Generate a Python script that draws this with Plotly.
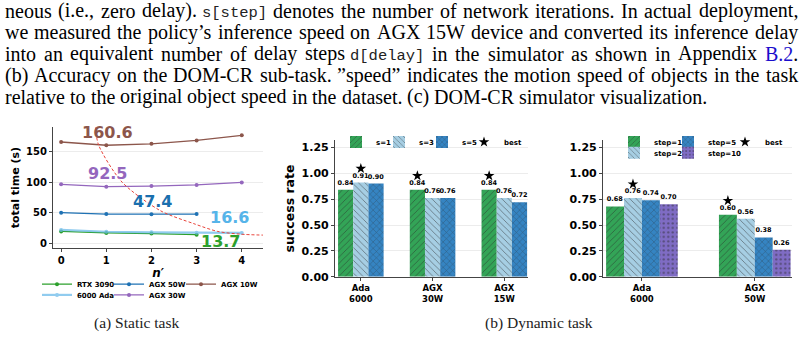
import plotly.graph_objects as go

W, H = 805, 346

# ---------------- data: (a) static task ----------------
n_prime = [0, 1, 2, 3, 4]
rtx3090_time = [19.0, 16.5, 15.5, 13.7]
ada6000_time = [21.5, 18.5, 17.5, 17.0, 16.6]
agx50w_time = [49.8, 47.6, 47.4, 47.5]
agx30w_time = [96.5, 92.5, 93.5, 95.5, 99.5]
agx10w_time = [166.0, 160.6, 163.0, 168.5, 177.0]
trend_n = [0.76, 0.83, 1.35, 2.2, 2.93, 3.47, 3.98, 4.47]
trend_time = [190, 161, 100, 53, 32, 19, 14.5, 13]
min_labels = ["13.7", "16.6", "47.4", "92.5", "160.6"]

# ---------------- data: (b) dynamic task ----------------
devices_s = ["Ada<br>6000", "AGX<br>30W", "AGX<br>15W"]
sr_s1 = [0.84, 0.84, 0.84]
sr_s3 = [0.91, 0.76, 0.76]
sr_s5 = [0.90, 0.76, 0.72]
best_s = [1, 0, 0]

devices_step = ["Ada<br>6000", "AGX<br>50W"]
sr_step1 = [0.68, 0.60]
sr_step2 = [0.76, 0.56]
sr_step5 = [0.74, 0.38]
sr_step10 = [0.70, 0.26]
best_step = [1, 0]

# ---------------- paper text ----------------
paper_lines = [
    "neous (i.e., zero delay). `s[step]` denotes the number of network iterations. In actual deployment,",
    "we measured the policy’s inference speed on AGX 15W device and converted its inference delay",
    "into an equivalent number of delay steps `d[delay]` in the simulator as shown in Appendix {B.2}.",
    "(b) Accuracy on the DOM-CR sub-task. ”speed” indicates the motion speed of objects in the task",
    "relative to the original object speed in the dataset. (c) DOM-CR simulator visualization.",
]
caption_a = "(a) Static task"
caption_b = "(b) Dynamic task"

# ---------------- styling ----------------
FONT = "DejaVu Sans"
SERIF = "Liberation Serif"
MONO = "Liberation Mono"
GREEN, LBLUE, BLUE, PURPLE = "#33a457", "#a6cee3", "#3584c2", "#7f6cc4"
BARGAP = 0.365
LEG_DY = 6
TXT_SIZE = 20
MONO_SIZE = 15.5
LINE_Y = [11, 33, 55, 77, 99]
TXT_LEFT, TXT_RIGHT = 5, 798
STAR_OFFSET = 0.135

# Times / Liberation Serif advance widths (1/1000 em)
_TW = {" ": 250, ".": 250, ",": 250, "(": 333, ")": 333, "-": 333, "’": 333, "”": 444,
       "[": 333, "]": 333, ":": 278}
_TW.update({d: 500 for d in "0123456789"})
_TW.update(dict(zip("abcdefghijklmnopqrstuvwxyz",
                    [444, 500, 444, 500, 444, 333, 500, 500, 278, 278, 500, 278, 778, 500, 500,
                     500, 500, 333, 389, 278, 500, 500, 722, 500, 500, 444])))
_TW.update(dict(zip("ABCDEFGHIJKLMNOPQRSTUVWXYZ",
                    [722, 667, 667, 722, 611, 556, 722, 722, 333, 389, 722, 611, 889, 722, 722,
                     556, 722, 667, 556, 611, 722, 722, 944, 722, 722, 611])))


def word_width(word):
    if word.startswith("`"):
        return 600 * len(word.strip("`")) * MONO_SIZE / 1000
    w = word.replace("{", "").replace("}", "")
    return sum(_TW.get(c, 500) for c in w) * TXT_SIZE / 1000


def word_html(word):
    if word.startswith("`"):
        return (f"<span style='font-family:{MONO};font-size:{MONO_SIZE}px;color:#222'>"
                f"{word.strip('`')}</span>")
    if "{" in word:
        return word.replace("{", "<span style='color:#1a0dcc'>").replace("}", "</span>")
    return word


def tokens_of(line):
    """Words of a line as (html, width); monospace words are glued to the previous word
    so that they share its baseline."""
    toks = []
    for wd in line.split(" "):
        html, wdt = word_html(wd), word_width(wd)
        if wd.startswith("`") and toks:
            ph, pw = toks.pop()
            html = ph + " " + html
            wdt = pw + 250 * TXT_SIZE / 1000 + wdt
        toks.append((html, wdt))
    return toks


def fx(p):
    return p / W


def fy(p):
    return 1 - p / H


fig = go.Figure()
legends = {}
annotations = []


def legend_at(key, text_x, row_y):
    legends[key] = dict(
        x=fx(text_x - 40), y=fy(row_y + LEG_DY), xanchor="left", yanchor="middle",
        bgcolor="rgba(0,0,0,0)", borderwidth=0, orientation="v",
        itemwidth=30, tracegroupgap=0,
        font=dict(family=FONT, size=7, color="black", weight="bold"),
    )


# ---- (a) lines ----
line_specs = [
    ("RTX 3090", rtx3090_time, "#2ca02c", 1.3, 1.0, "legend", 77, 284),
    ("6000 Ada", ada6000_time, "#6dbbea", 2.2, 0.75, "legend2", 77, 295),
    ("AGX 50W", agx50w_time, "#1f72b4", 1.3, 1.0, "legend3", 149, 284),
    ("AGX 30W", agx30w_time, "#9467bd", 1.3, 1.0, "legend4", 149, 295),
    ("AGX 10W", agx10w_time, "#8c564b", 1.3, 1.0, "legend5", 221, 284),
]
for name, ys, col, lw, op, lg, tx, ty in line_specs:
    fig.add_trace(go.Scatter(
        x=n_prime[:len(ys)], y=ys, name=name, mode="lines+markers",
        line=dict(color=col, width=lw), marker=dict(size=4, color=col),
        opacity=op, xaxis="x", yaxis="y", legend=lg,
    ))
    legend_at(lg, tx, ty)

fig.add_trace(go.Scatter(
    x=trend_n, y=trend_time, mode="lines", showlegend=False,
    line=dict(color="#e8433a", width=1, dash="3px,2px", shape="spline", smoothing=0.8),
    xaxis="x", yaxis="y",
))

label_style = [
    (3.53, 3, "#2ca02c"),
    (3.72, 42, "#56b4e9"),
    (2.02, 69, "#1a6fae"),
    (1.02, 115, "#9467bd"),
    (1.02, 182, "#8c564b"),
]
for txt, (lx, ly, col) in zip(min_labels, label_style):
    annotations.append(dict(
        x=lx, y=ly, xref="x", yref="y", text=txt, showarrow=False,
        font=dict(family=FONT, size=16, color=col, weight="bold"),
    ))


# ---- (b) bars ----
def add_bars(cats, series, names, colors, shapes, xa, ya, leg_keys, leg_pos, best, star_leg, star_pos):
    n = len(series)
    xs = list(range(len(cats)))
    for vals, nm, col, shp, lg, (tx, ty) in zip(series, names, colors, shapes, leg_keys, leg_pos):
        fig.add_trace(go.Bar(
            x=xs, y=vals, name=nm, xaxis=xa, yaxis=ya, legend=lg,
            marker=dict(color=col, line=dict(width=0),
                        pattern=dict(shape=shp, fgcolor="#2a2a2a", size=4.5, solidity=0.2)),
            text=[f"{v:.2f}" for v in vals], textposition="outside",
            textangle=0, constraintext="none", cliponaxis=False,
            textfont=dict(family=FONT, size=6.5, color="black", weight="bold"),
        ))
        legend_at(lg, tx, ty)
    w = (1 - BARGAP) / n
    sx = [i + (b - (n - 1) / 2) * w for i, b in enumerate(best)]
    sy = [series[b][i] + STAR_OFFSET for i, b in enumerate(best)]
    fig.add_trace(go.Scatter(
        x=sx, y=sy, mode="markers", name="best", xaxis=xa, yaxis=ya, legend=star_leg,
        marker=dict(symbol="star", size=8, color="black"), cliponaxis=False,
    ))
    legend_at(star_leg, *star_pos)


add_bars(devices_s, [sr_s1, sr_s3, sr_s5], ["s=1", "s=3", "s=5"],
         [GREEN, LBLUE, BLUE], ["/", "\\", "x"], "x2", "y2",
         ["legend6", "legend7", "legend8"], [(376, 139), (419, 139), (462, 139)],
         best_s, "legend9", (504, 139))
add_bars(devices_step, [sr_step1, sr_step2, sr_step5, sr_step10],
         ["step=1", "step=2", "step=5", "step=10"],
         [GREEN, LBLUE, BLUE, PURPLE], ["/", "\\", "x", "."], "x3", "y3",
         ["legend10", "legend11", "legend12", "legend13"],
         [(654, 139), (654, 150), (708, 139), (708, 150)],
         best_step, "legend14", (765, 139))

# ---- paper text: justified lines laid out word by word ----
TXT = dict(family=SERIF, size=TXT_SIZE, color="black")
for i, (line, yy) in enumerate(zip(paper_lines, LINE_Y)):
    toks = tokens_of(line)
    total = sum(wdt for _, wdt in toks)
    last = i == len(paper_lines) - 1
    gap = 250 * TXT_SIZE / 1000 if last else (TXT_RIGHT - TXT_LEFT - total) / (len(toks) - 1)
    x = TXT_LEFT
    for html, wdt in toks:
        annotations.append(dict(x=fx(x), y=fy(yy), xref="paper", yref="paper", xanchor="left",
                                yanchor="middle", text=html, showarrow=False, font=TXT,
                                borderpad=0, borderwidth=0))
        x += wdt + gap

# captions
annotations.append(dict(x=fx(136), y=fy(330), xref="paper", yref="paper", showarrow=False,
                        xanchor="center", yanchor="middle",
                        text=caption_a, font=dict(family=SERIF, size=15.5, color="#222")))
annotations.append(dict(x=fx(539), y=fy(330), xref="paper", yref="paper", showarrow=False,
                        xanchor="center", yanchor="middle",
                        text=caption_b, font=dict(family=SERIF, size=15.5, color="#222")))

tickfont_a = dict(family=FONT, size=10, color="black", weight="bold")
tickfont_b = dict(family=FONT, size=11, color="black", weight="bold")
xtickfont_b = dict(family=FONT, size=8.5, color="black", weight="bold")
axis_common = dict(showline=True, linecolor="#444", linewidth=1.2, ticks="outside",
                   ticklen=3, tickcolor="#444", zeroline=False)

layout = dict(
    width=W, height=H, margin=dict(l=0, r=0, t=0, b=0),
    paper_bgcolor="white", plot_bgcolor="white",
    barmode="group", bargap=BARGAP, bargroupgap=0,
    annotations=annotations,
    xaxis=dict(domain=[fx(53), fx(263)], range=[-0.18, 4.47], tickvals=n_prime,
               tickfont=tickfont_a, showgrid=False, anchor="y",
               title=dict(text="<b><i>n′</i></b>", font=dict(family=FONT, size=12, color="black"),
                          standoff=2),
               **axis_common),
    yaxis=dict(domain=[fy(253), fy(130)], range=[-8, 190], tickvals=[0, 50, 100, 150],
               tickfont=tickfont_a, showgrid=True, gridcolor="#ececec", anchor="x",
               title=dict(text="<b>total time (s)</b>", font=dict(family=FONT, size=11, color="black"),
                          standoff=4),
               **axis_common),
    xaxis2=dict(domain=[fx(335), fx(528)], range=[-0.36, 2.33], tickvals=list(range(len(devices_s))),
                ticktext=devices_s, tickfont=xtickfont_b, showgrid=False, anchor="y2", **axis_common),
    yaxis2=dict(domain=[fy(282.5), fy(143)], range=[0, 1.32], tickvals=[0, 0.25, 0.5, 0.75, 1.0, 1.25],
                tickformat=".2f", tickfont=tickfont_b, showgrid=True, gridcolor="#ececec", anchor="x2",
                title=dict(text="<b>success rate</b>", font=dict(family=FONT, size=12.5, color="black"),
                           standoff=4),
                **axis_common),
    xaxis3=dict(domain=[fx(603), fx(792)], range=[-0.345, 1.33], tickvals=list(range(len(devices_step))),
                ticktext=devices_step, tickfont=xtickfont_b, showgrid=False, anchor="y3", **axis_common),
    yaxis3=dict(domain=[fy(282.5), fy(143)], range=[0, 1.32], tickvals=[0, 0.25, 0.5, 0.75, 1.0, 1.25],
                tickformat=".2f", tickfont=tickfont_b, showgrid=True, gridcolor="#ececec", anchor="x3",
                **axis_common),
)
layout.update(legends)
fig.update_layout(**layout)

fig.write_html("out.html")
